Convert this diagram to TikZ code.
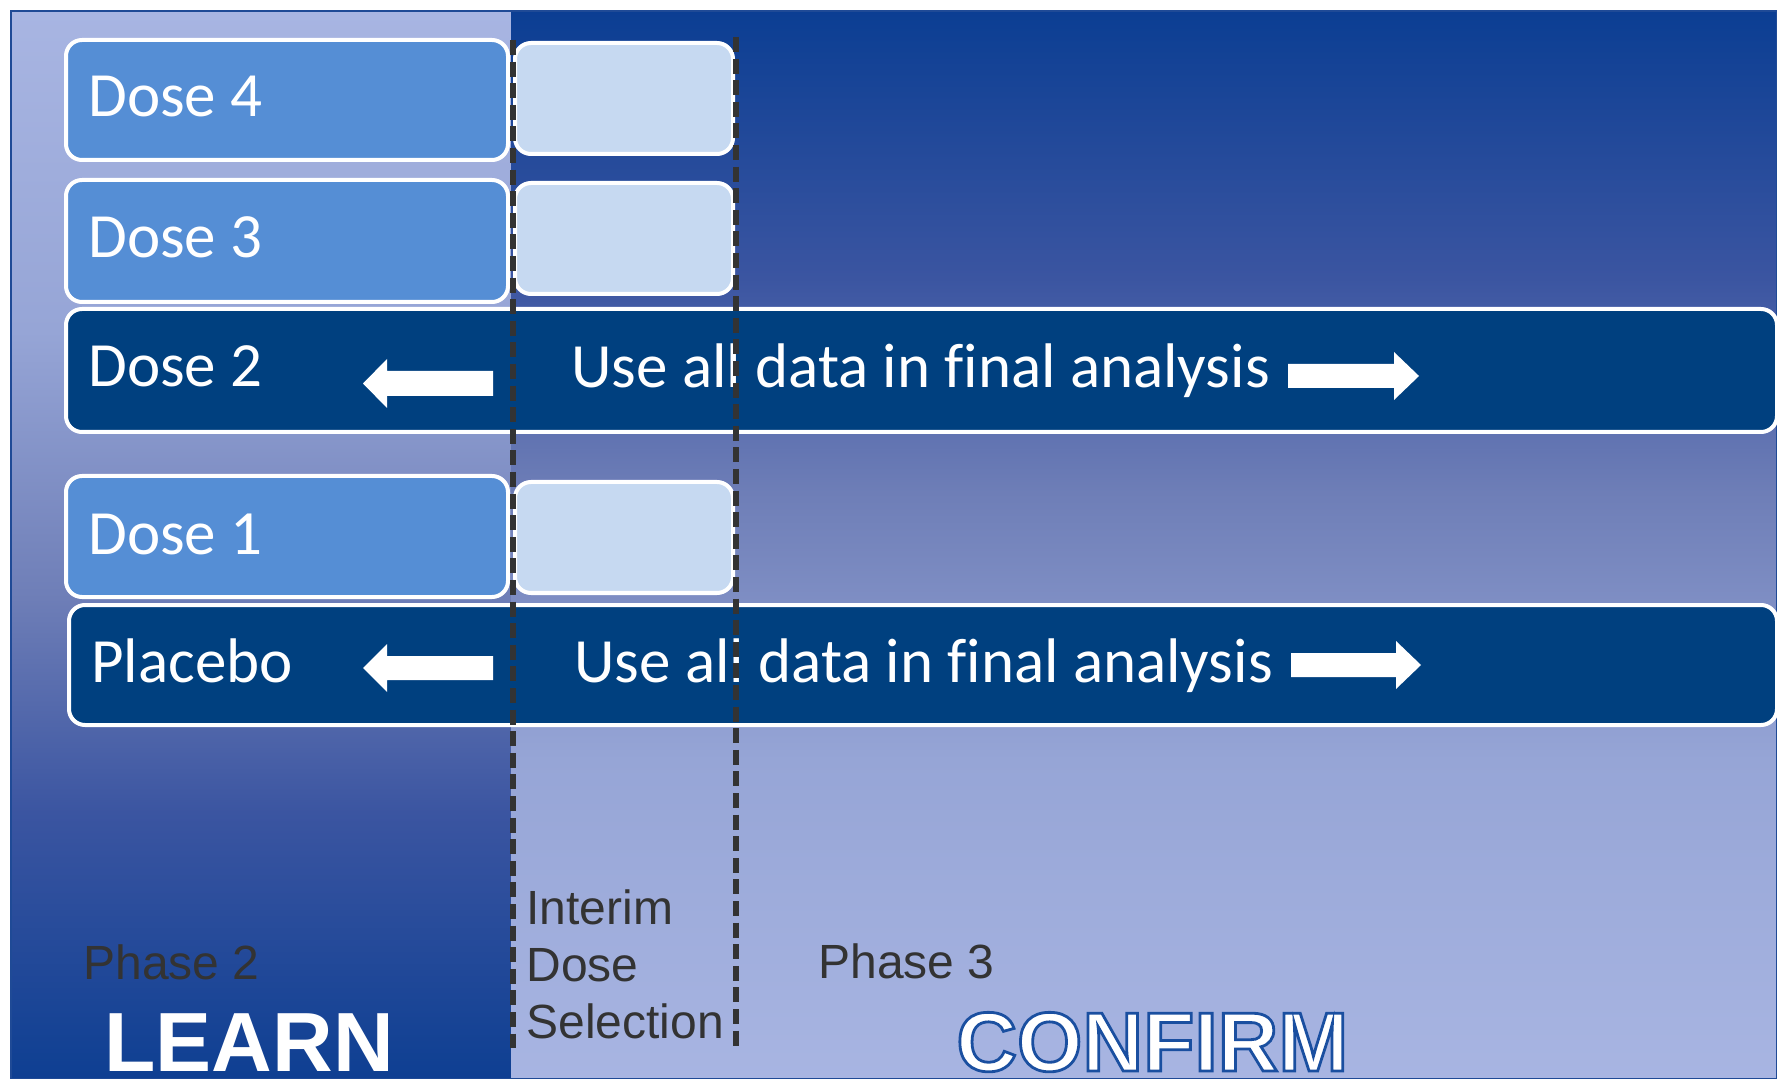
\documentclass[tikz,border=0pt]{standalone}
\usepackage{fontspec}
\setmainfont[Ligatures=NoCommon]{Carlito}
\newfontfamily\arialf{Liberation Sans}
\usetikzlibrary{fit}
\definecolor{doseblue}{HTML}{558ED5}
\definecolor{lightbox}{HTML}{C6D9F1}
\definecolor{darkbar}{HTML}{00407F}
\definecolor{dashgray}{HTML}{333333}
\definecolor{labelgray}{HTML}{333333}
\definecolor{framec}{HTML}{1F4A96}
\definecolor{gA}{HTML}{0B3E93}
\definecolor{gB}{HTML}{3B55A1}
\definecolor{gC}{HTML}{6E7EB7}
\definecolor{gD}{HTML}{96A5D6}
\definecolor{gE}{HTML}{A8B5E2}
\definecolor{gF}{HTML}{0E3F92}
\newcommand\strokedtext[1]{\special{pdf:literal direct 2 Tr 1.4 w 0.102 0.310 0.627 RG}#1\special{pdf:literal direct 0 Tr}}
\begin{document}
\begin{tikzpicture}[x=0.5pt,y=-0.5pt,
  dosebox/.style={draw=white, line width=2pt, fill=doseblue, rounded corners=8pt, inner sep=0pt},
  lbox/.style={draw=white, line width=2pt, fill=lightbox, rounded corners=8pt, inner sep=0pt},
  barbox/.style={draw=white, line width=2pt, fill=darkbar, rounded corners=8pt, inner sep=0pt},
  boxtext/.style={anchor=base west, inner sep=0pt, text=white, font=\fontsize{31.5pt}{36pt}\selectfont},
  graytext/.style={anchor=base west, inner sep=0pt, text=labelgray, font=\arialf\fontsize{24pt}{28pt}\selectfont},
  bigtext/.style={anchor=base west, inner sep=0pt, text=white, font=\arialf\bfseries\fontsize{42pt}{48pt}\selectfont},
  blockarrow/.style={fill=white},
  dashline/.style={draw=dashgray, line width=2.6pt, dash pattern=on 7.5pt off 3.3pt}]
\useasboundingbox (0,0) rectangle (1777,1079);
\fill[white] (0,0) rectangle (1777,1079);
% right panel gradient
\shade[top color=gA, bottom color=gB] (510,11) rectangle (1777,278.5);
\shade[top color=gB, bottom color=gC] (510,278) rectangle (1777,492.5);
\shade[top color=gC, bottom color=gD] (510,492) rectangle (1777,759.5);
\shade[top color=gD, bottom color=gE] (510,759) rectangle (1777,1079);
% left panel gradient
\shade[top color=gE, bottom color=gD] (11,11) rectangle (510.5,331.5);
\shade[top color=gD, bottom color=gC] (11,331) rectangle (510.5,598.5);
\shade[top color=gC, bottom color=gB] (11,598) rectangle (510.5,812.5);
\shade[top color=gB, bottom color=gF] (11,812) rectangle (510.5,1079);
\draw[framec, line width=0.8pt] (11,11) rectangle (1777,1079);
% boxes
\node[dosebox, fit={(66,40) (508,160)}] (d4) {};
\node[lbox, fit={(515,43) (733,154)}] (s4) {};
\node[dosebox, fit={(66,180) (508,302)}] (d3) {};
\node[lbox, fit={(515,183) (733,294)}] (s3) {};
\node[barbox, fit={(66,309) (1777,432)}] (d2) {};
\node[dosebox, fit={(66,476) (508,597)}] (d1) {};
\node[lbox, fit={(515,482) (733,593)}] (s1) {};
\node[barbox, fit={(69,605) (1777,725)}] (pl) {};
% labels
\node[boxtext] (t4) at (88,117) {Dose 4};
\node[boxtext] (t3) at (88,258) {Dose 3};
\node[boxtext] (t2) at (88,387) {Dose 2};
\node[boxtext] (t1) at (88,555) {Dose 1};
\node[boxtext] (tp) at (91,682) {Placebo};
\node[boxtext] (u2) at (571,388) {Use all data in final analysis};
\node[boxtext] (up) at (574,682) {Use all data in final analysis};
% block arrows
\fill[blockarrow] (493,371) -- (387,371) -- (387,359) -- (363,383.5) -- (387,408) -- (387,396) -- (493,396) -- cycle;
\fill[blockarrow] (493,656) -- (387,656) -- (387,644) -- (363,668) -- (387,692) -- (387,680) -- (493,680) -- cycle;
\fill[blockarrow] (1288,364) -- (1394,364) -- (1394,352) -- (1419,376) -- (1394,400) -- (1394,388) -- (1288,388) -- cycle;
\fill[blockarrow] (1291,653) -- (1396,653) -- (1396,641) -- (1421,665) -- (1396,689) -- (1396,677) -- (1291,677) -- cycle;
% dashed separators
\coordinate (a1) at (513,40);
\coordinate (a2) at (513,1048);
\coordinate (b1) at (736,37);
\coordinate (b2) at (736,1048);
\draw[dashline] (a1) -- (a2);
\draw[dashline] (b1) -- (b2);
% bottom labels
\node[graytext] (i1) at (526,924) {Interim};
\node[graytext] (i2) at (526,981) {Dose};
\node[graytext] (i3) at (526,1038) {Selection};
\node[graytext] (p2) at (83,979) {Phase 2};
\node[graytext] (p3) at (818,978) {Phase 3};
\node[bigtext] (learn) at (104,1071) {LEARN};
\node[bigtext] (confirm) at (956,1071) {\strokedtext{CONFIRM}};
\end{tikzpicture}
\end{document}
